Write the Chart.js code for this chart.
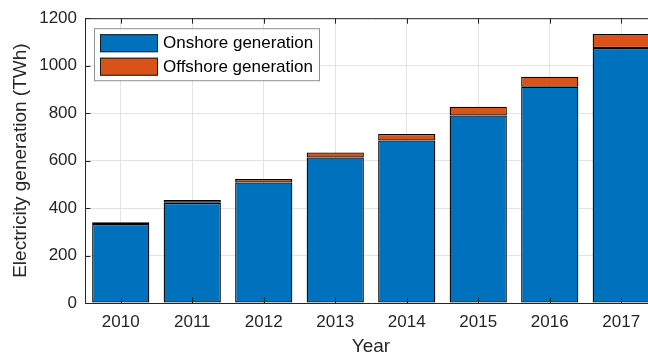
<!DOCTYPE html>
<html>
<head>
<meta charset="utf-8">
<script src="https://cdn.jsdelivr.net/npm/chart.js"></script>
<style>
html, body { margin: 0; padding: 0; overflow: hidden; background: #fff; }
</style>
</head>
<body>
<canvas id="windchart" width="660" height="370"></canvas>
<script>
const years = ["2010", "2011", "2012", "2013", "2014", "2015", "2016", "2017"];
const onshore = [333, 422, 508, 613, 685, 790, 911, 1074];
const offshore = [7, 12, 14, 21, 27, 37, 42, 59];
const yTicks = [0, 200, 400, 600, 800, 1000, 1200];

const FONT = "'Liberation Sans', Arial, Helvetica, sans-serif";
const TEXT = "#262626";

// axis box with inward tick marks, drawn over the bars
const axesBox = {
  id: "axesBox",
  afterDatasetsDraw(chart) {
    const { ctx, chartArea: a, scales } = chart;
    const len = 5.5;
    ctx.save();
    ctx.strokeStyle = TEXT;
    ctx.lineWidth = 1;
    ctx.beginPath();
    ctx.rect(a.left + 0.5, a.top + 0.5, a.right - a.left, a.bottom - a.top);
    scales.y.ticks.forEach((t, i) => {
      const y = Math.round(scales.y.getPixelForTick(i)) + 0.5;
      ctx.moveTo(a.left, y); ctx.lineTo(a.left + len, y);
      ctx.moveTo(a.right, y); ctx.lineTo(a.right - len, y);
    });
    scales.x.ticks.forEach((t, i) => {
      const x = Math.round(scales.x.getPixelForTick(i)) + 0.5;
      ctx.moveTo(x, a.bottom); ctx.lineTo(x, a.bottom - len);
      ctx.moveTo(x, a.top); ctx.lineTo(x, a.top + len);
    });
    ctx.stroke();
    ctx.restore();
  }
};

// boxed legend in the upper left corner of the axes
const boxLegend = {
  id: "boxLegend",
  afterDraw(chart) {
    const { ctx, chartArea: a } = chart;
    const x0 = a.left + 9, y0 = a.top + 10;
    ctx.save();
    ctx.fillStyle = "#fff";
    ctx.fillRect(x0, y0, 225, 52);
    ctx.strokeStyle = "#8f8f8f";
    ctx.lineWidth = 1;
    ctx.strokeRect(x0 + 0.5, y0 + 0.5, 225, 52);
    ctx.font = "17px " + FONT;
    ctx.textBaseline = "middle";
    chart.data.datasets.forEach((ds, i) => {
      const ry = y0 + 6 + i * 23.5;
      ctx.fillStyle = ds.backgroundColor;
      ctx.fillRect(x0 + 6, ry, 58, 18);
      ctx.strokeStyle = "#1a1a1a";
      ctx.strokeRect(x0 + 6.5, ry + 0.5, 57, 17);
      ctx.fillStyle = "#000";
      ctx.fillText(ds.label, x0 + 69, ry + 9.5);
    });
    ctx.restore();
  }
};

new Chart("windchart", {
  type: "bar",
  data: {
    labels: years,
    datasets: [{
      label: "Onshore generation",
      data: onshore,
      backgroundColor: "#0072BD",
      borderColor: "#000",
      borderWidth: 1.3,
      borderSkipped: false
    }, {
      label: "Offshore generation",
      data: offshore,
      backgroundColor: "#D95319",
      borderColor: "#000",
      borderWidth: 1.3,
      borderSkipped: false
    }]
  },
  options: {
    responsive: false,
    animation: false,
    devicePixelRatio: 1,
    layout: { padding: { top: 18, right: 3, left: 0, bottom: 0 } },
    datasets: { bar: { barPercentage: 0.8, categoryPercentage: 1 } },
    scales: {
      x: {
        stacked: true,
        afterFit: (s) => { s.height = 67; },
        grid: { color: "#e3e3e3", offset: false, drawTicks: false },
        border: { display: false },
        ticks: { color: TEXT, font: { family: FONT, size: 17 }, padding: 9, maxRotation: 0 },
        title: { display: true, text: "Year", color: TEXT, font: { family: FONT, size: 19 }, padding: { top: 0, bottom: 12 } }
      },
      y: {
        stacked: true,
        min: 0,
        max: 1200,
        afterFit: (s) => { s.width = 85; },
        afterBuildTicks: (s) => { s.ticks = yTicks.map(v => ({ value: v })); },
        grid: { color: "#e3e3e3", drawTicks: false },
        border: { display: false },
        ticks: { color: TEXT, font: { family: FONT, size: 17 }, padding: 8, callback: (v) => String(v) },
        title: { display: true, text: "Electricity generation (TWh)", color: TEXT, font: { family: FONT, size: 19 }, padding: { top: 9, bottom: 0 } }
      }
    },
    plugins: {
      legend: { display: false },
      tooltip: { enabled: false }
    }
  },
  plugins: [axesBox, boxLegend]
});
</script>
</body>
</html>
